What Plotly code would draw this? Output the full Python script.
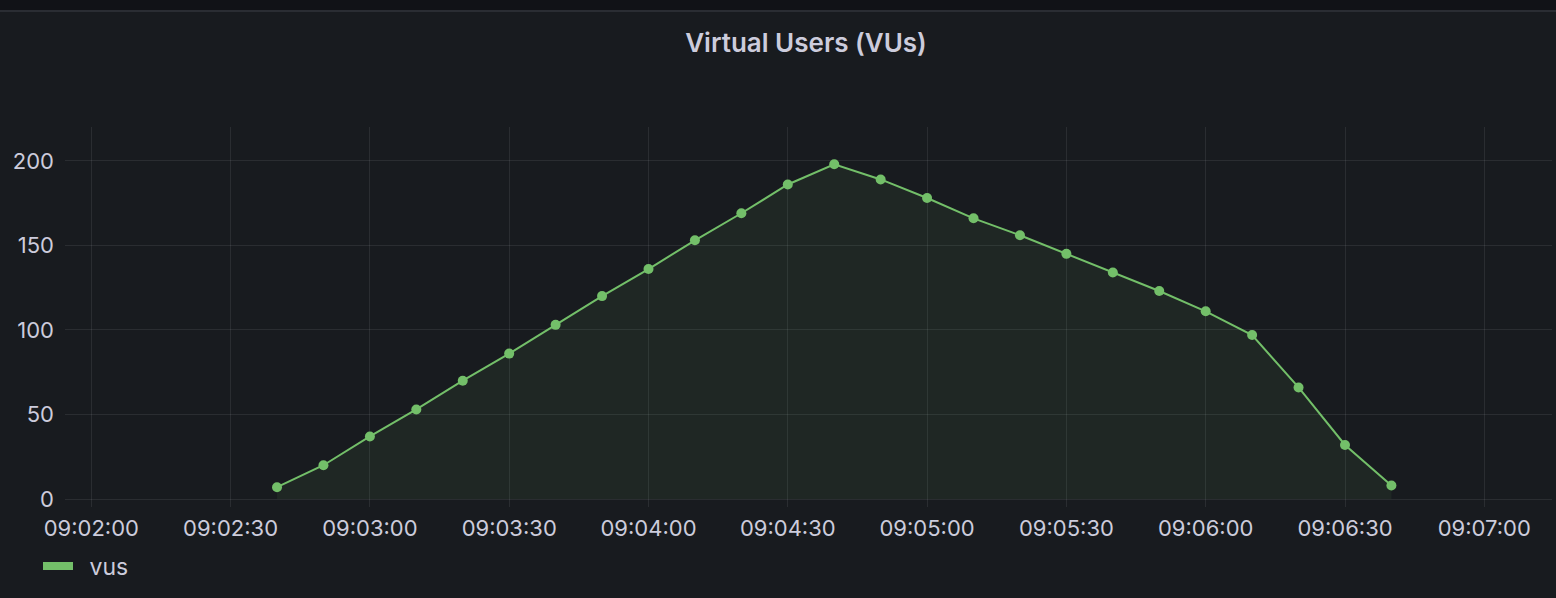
import plotly.graph_objects as go

# ---- data ----
times = [
    "2024-01-01 09:02:40", "2024-01-01 09:02:50", "2024-01-01 09:03:00",
    "2024-01-01 09:03:10", "2024-01-01 09:03:20", "2024-01-01 09:03:30",
    "2024-01-01 09:03:40", "2024-01-01 09:03:50", "2024-01-01 09:04:00",
    "2024-01-01 09:04:10", "2024-01-01 09:04:20", "2024-01-01 09:04:30",
    "2024-01-01 09:04:40", "2024-01-01 09:04:50", "2024-01-01 09:05:00",
    "2024-01-01 09:05:10", "2024-01-01 09:05:20", "2024-01-01 09:05:30",
    "2024-01-01 09:05:40", "2024-01-01 09:05:50", "2024-01-01 09:06:00",
    "2024-01-01 09:06:10", "2024-01-01 09:06:20", "2024-01-01 09:06:30",
    "2024-01-01 09:06:40",
]
vus = [7, 20, 37, 53, 70, 86, 103, 120, 136, 153, 169, 186, 198,
       189, 178, 166, 156, 145, 134, 123, 111, 97, 66, 32, 8]
y_ticks = [0, 50, 100, 150, 200]
series_name = "vus"
title_text = "Virtual Users (VUs)"

# ---- style ----
GREEN = "#73bf69"
BG = "#181b1f"
TEXT = "#ccccdc"
GRID = "rgba(204,204,220,0.10)"
FONT = "Inter"

fig = go.Figure()
fig.add_trace(go.Scatter(
    x=times, y=vus, mode="lines+markers", name=series_name,
    line=dict(color=GREEN, width=2),
    marker=dict(color=GREEN, size=10),
    fill="tozeroy", fillcolor="rgba(115,191,105,0.08)",
    showlegend=False,
))
# legend entry (line swatch like Grafana); en space widens gap to the label
fig.add_trace(go.Scatter(
    x=[None], y=[None], mode="lines", name="\u2002" + series_name,
    line=dict(color=GREEN, width=8),
    showlegend=True,
))

fig.update_layout(
    width=1556, height=598,
    margin=dict(l=65, r=4, t=127, b=91),
    paper_bgcolor=BG, plot_bgcolor=BG,
    font=dict(family=FONT, color=TEXT, size=22),
    title=dict(text=title_text, x=806 / 1556, xref="container", xanchor="center",
               y=1 - 43 / 598, yref="container", yanchor="middle",
               font=dict(family=FONT, size=26, color=TEXT, weight=600)),
    showlegend=True,
    legend=dict(orientation="h", x=38 / 1556, xanchor="left", xref="container",
                y=1 - 566 / 598, yref="container", yanchor="middle",
                font=dict(family=FONT, size=23, color=TEXT),
                bgcolor="rgba(0,0,0,0)", itemwidth=30),
    xaxis=dict(
        type="date",
        range=["2024-01-01 09:01:54.34", "2024-01-01 09:07:14.58"],
        tick0="2024-01-01 09:02:00", dtick=30000, tickformat="%H:%M:%S",
        showgrid=True, gridcolor=GRID, gridwidth=1,
        zeroline=False, showline=False, ticks="",
        ticklabelstandoff=6,
        tickfont=dict(family=FONT, size=22, color=TEXT),
    ),
    yaxis=dict(
        range=[-4.7, 220], tickvals=y_ticks,
        showgrid=True, gridcolor=GRID, gridwidth=1,
        zeroline=False, showline=False, ticks="",
        ticklabelstandoff=10,
        tickfont=dict(family=FONT, size=22, color=TEXT),
    ),
    shapes=[
        dict(type="rect", xref="paper", yref="paper", layer="below",
             x0=-0.1, x1=1.1, y0=1 + (127 - 10) / 380, y1=1 + 127 / 380 + 0.05,
             fillcolor="#111217", line=dict(width=0)),
        dict(type="line", xref="paper", yref="paper", layer="below",
             x0=-0.1, x1=1.1, y0=1 + (127 - 11) / 380, y1=1 + (127 - 11) / 380,
             line=dict(color="#2a2d33", width=2)),
    ],
)

fig.write_html("out.html")
